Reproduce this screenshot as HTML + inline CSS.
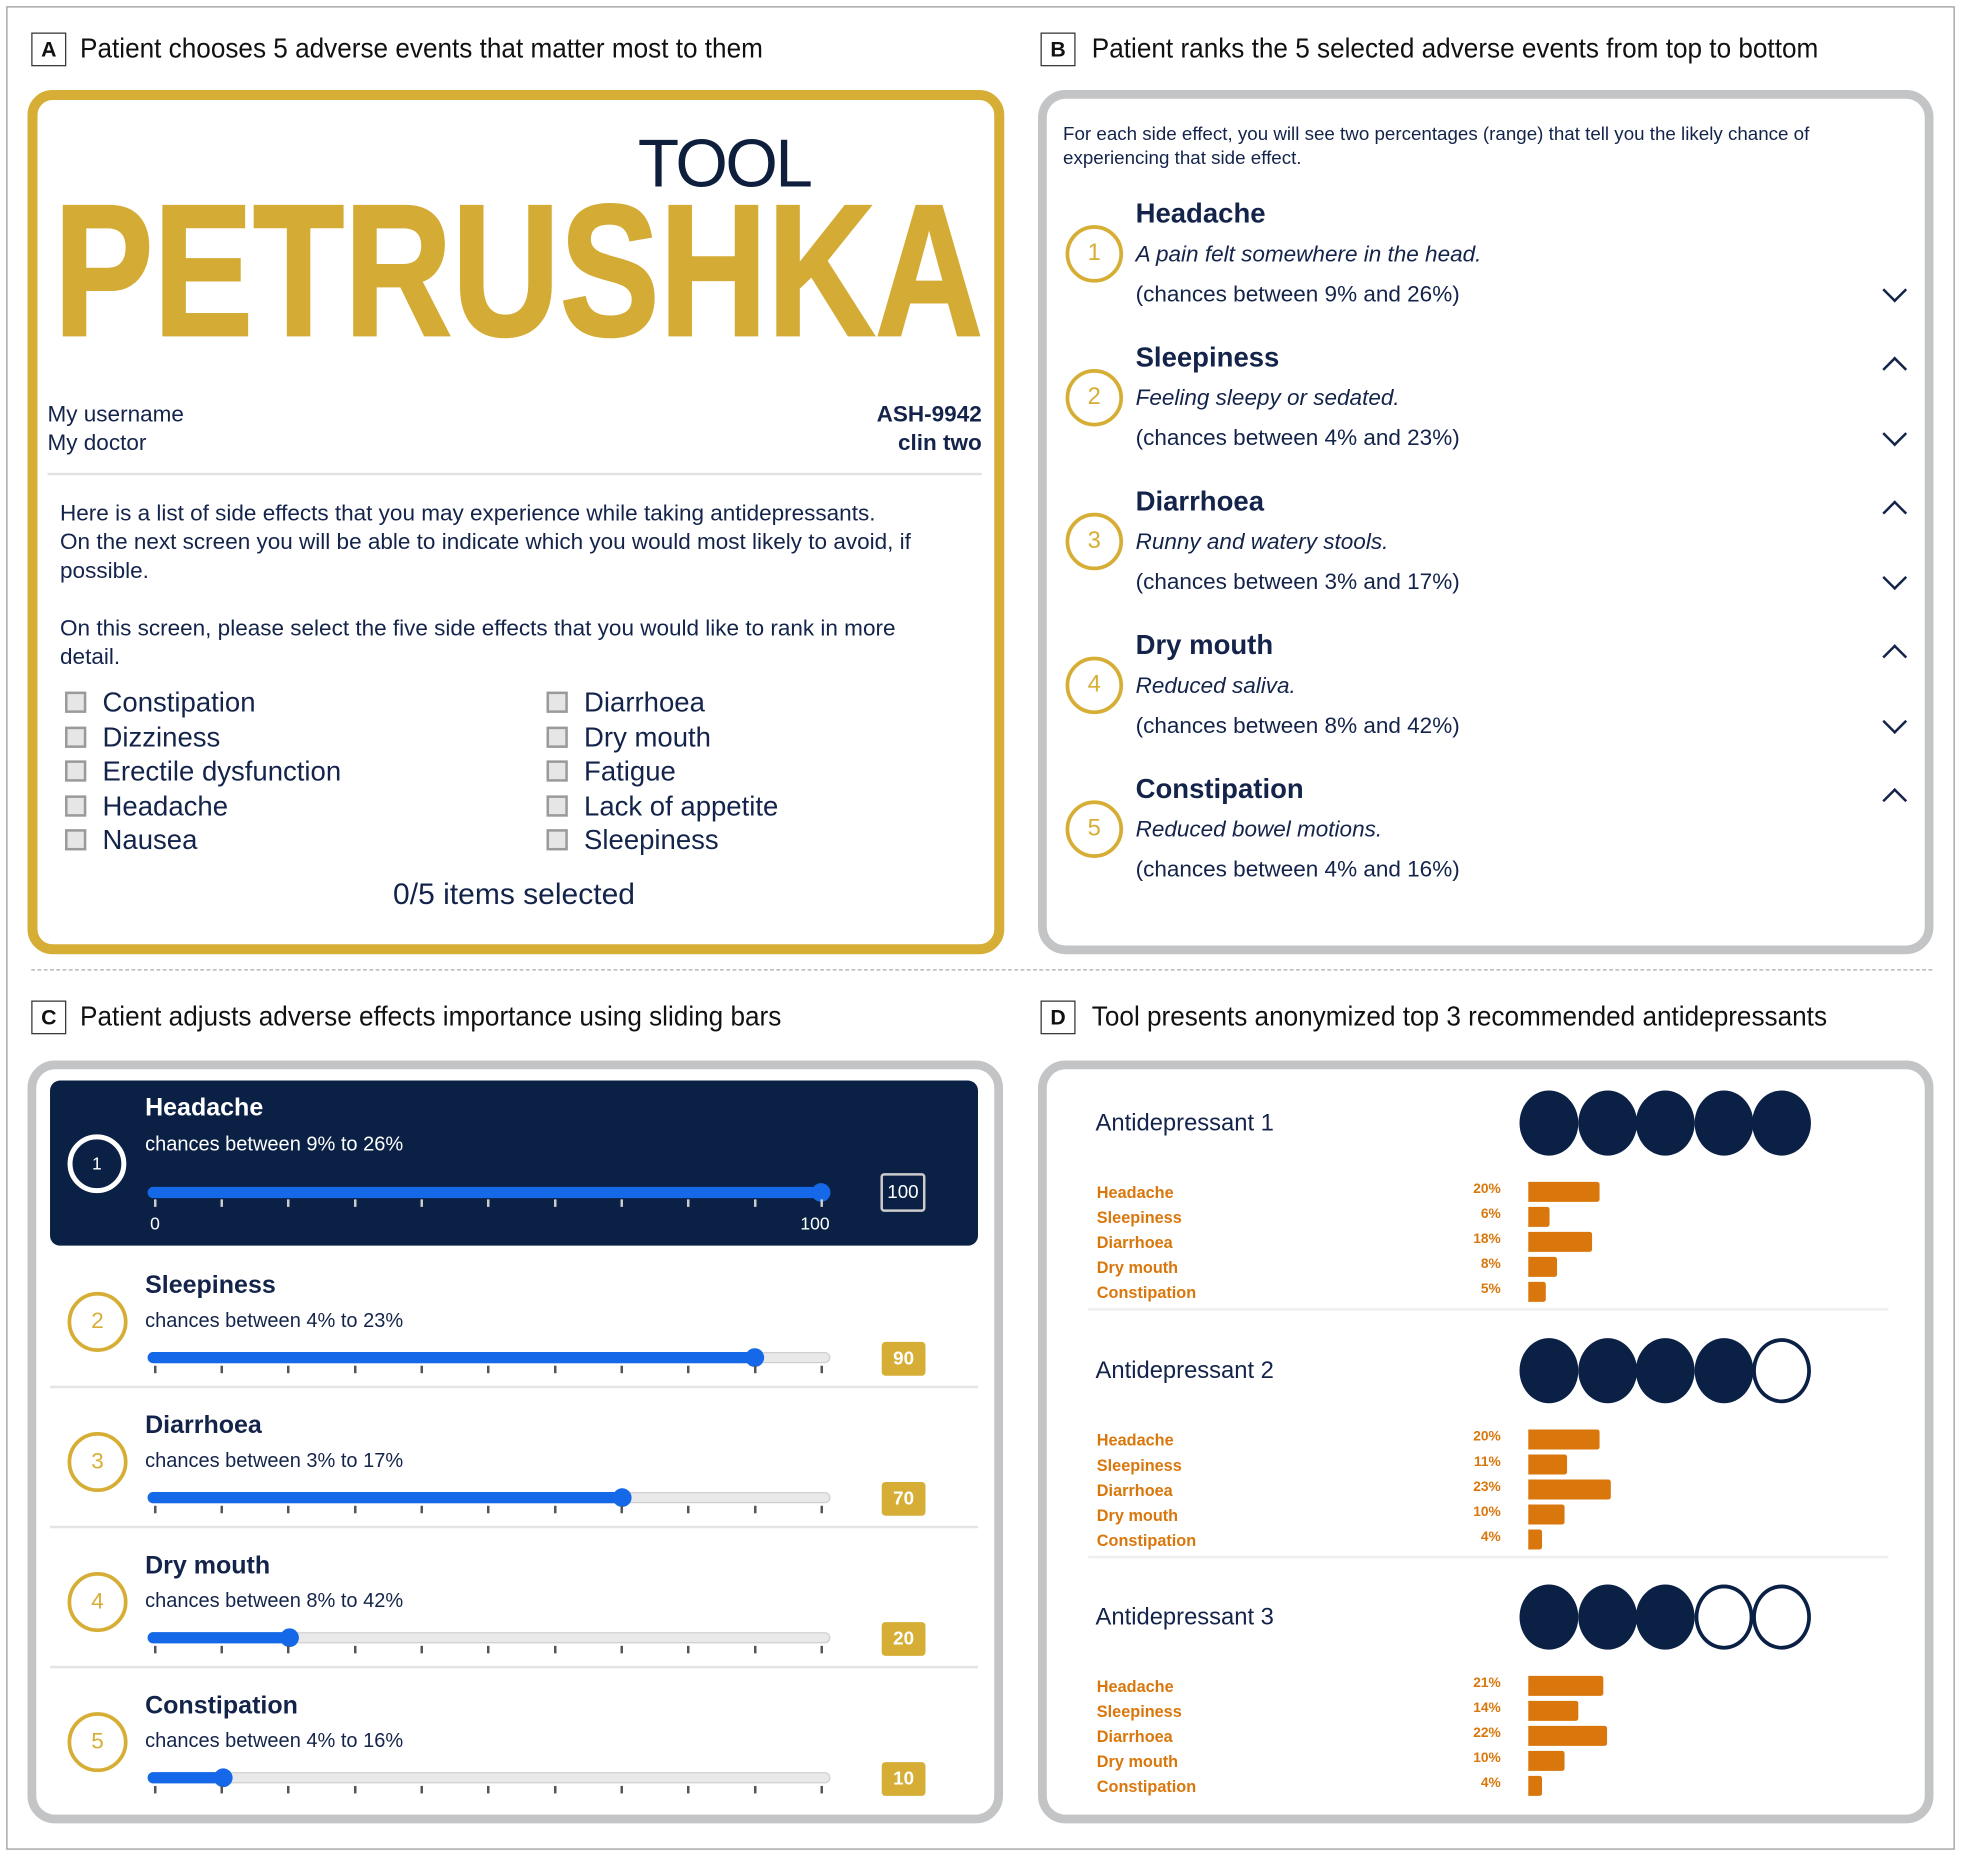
<!DOCTYPE html>
<html><head><meta charset="utf-8"><style>
*{margin:0;padding:0;box-sizing:border-box}
html,body{width:1961px;height:1856px;overflow:hidden;background:#fff}
#w{position:absolute;left:0;top:0;width:1568px;height:1484px;transform:scale(1.25064);transform-origin:0 0;font-family:"Liberation Sans",sans-serif;color:#13234a}
.a{position:absolute;white-space:nowrap}
.lab{position:absolute;width:28px;height:27px;border:1.5px solid #333;font:bold 17px "Liberation Sans Narrow","Liberation Sans",sans-serif;color:#111;text-align:center;line-height:25px}
.cap{position:absolute;font:22px "Liberation Sans Narrow","Liberation Sans",sans-serif;color:#111;white-space:nowrap;transform:scaleX(0.95);transform-origin:0 0}
.panel{position:absolute;border:7px solid #c3c4c6;border-radius:22px}
.cb{position:absolute;width:17px;height:17px;border:2px solid #9a9a9a;background:#e6e6e6}
.ct{position:absolute;font-size:22px;color:#13234a;white-space:nowrap}
.gc{position:absolute;border:3.5px solid #d6ae36;border-radius:50%;color:#d6ae36;text-align:center;font-size:19px}
.chev{position:absolute;width:14px;height:14px;border-right:2.5px solid #13234a;border-bottom:2.5px solid #13234a}
.trk{position:absolute;height:9px;border-radius:5px;background:#e9e9ea;border:1px solid #d0d0d0}
.fill{position:absolute;height:9px;border-radius:5px;background:#1569e8}
.th{position:absolute;width:15px;height:15px;border-radius:50%;background:#1569e8}
.tk{position:absolute;height:6px;background:repeating-linear-gradient(to right,#555 0 2px,transparent 2px 53.3px)}
.val{position:absolute;width:35px;height:27px;background:#d6ae36;color:#fff;font-weight:bold;font-size:15px;text-align:center;line-height:27px;border-radius:3px}
.ol{position:absolute;font-size:13px;font-weight:bold;color:#d9770c}
.op{position:absolute;font-size:11px;font-weight:bold;color:#d9770c;text-align:right;width:40px}
.bar{position:absolute;height:16px;background:#d9770c;border-radius:0 2px 2px 0}
.dot{position:absolute;width:47px;height:52px;border-radius:50%;background:#0b2045}
.dot.e{background:#fff;border:3px solid #0b2045}
</style></head><body><div id="w">
<div class="a" style="left:5px;top:5px;width:1558px;height:1474px;border:1.5px solid #999"></div>
<!-- A -->
<div class="lab" style="left:25px;top:26px">A</div>
<div class="cap" style="left:64px;top:26px">Patient chooses 5 adverse events that matter most to them</div>
<div class="a" style="left:22px;top:72px;width:781px;height:691px;border:8px solid #d6ae36;border-radius:20px"></div>
<div class="a" style="left:510px;top:100px;font-size:54px;color:#0e1f3d;letter-spacing:-2px">TOOL</div>
<svg class="a" style="left:40px;top:150px" width="750" height="125"><text x="3" y="118" textLength="743" lengthAdjust="spacingAndGlyphs" font-family="Liberation Sans" font-weight="bold" font-size="150" fill="#d4ab35" stroke="#d4ab35" stroke-width="2">PETRUSHKA</text></svg>
<div class="a" style="left:38px;top:320px;font-size:18px;line-height:23px">My username<br>My doctor</div>
<div class="a" style="right:783px;top:320px;font-size:18px;line-height:23px;font-weight:bold;text-align:right">ASH-9942<br>clin two</div>
<div class="a" style="left:38px;top:378px;width:747px;height:2px;background:#e2e2e2"></div>
<div class="a" style="left:48px;top:399px;font-size:18px;line-height:23px">Here is a list of side effects that you may experience while taking antidepressants.<br>On the next screen you will be able to indicate which you would most likely to avoid, if<br>possible.<br><br>On this screen, please select the five side effects that you would like to rank in more<br>detail.</div>
<div class="cb" style="left:52px;top:553px"></div><div class="ct" style="left:82px;top:549px">Constipation</div>
<div class="cb" style="left:52px;top:581px"></div><div class="ct" style="left:82px;top:577px">Dizziness</div>
<div class="cb" style="left:52px;top:608px"></div><div class="ct" style="left:82px;top:604px">Erectile dysfunction</div>
<div class="cb" style="left:52px;top:636px"></div><div class="ct" style="left:82px;top:632px">Headache</div>
<div class="cb" style="left:52px;top:663px"></div><div class="ct" style="left:82px;top:659px">Nausea</div>
<div class="cb" style="left:437px;top:553px"></div><div class="ct" style="left:467px;top:549px">Diarrhoea</div>
<div class="cb" style="left:437px;top:581px"></div><div class="ct" style="left:467px;top:577px">Dry mouth</div>
<div class="cb" style="left:437px;top:608px"></div><div class="ct" style="left:467px;top:604px">Fatigue</div>
<div class="cb" style="left:437px;top:636px"></div><div class="ct" style="left:467px;top:632px">Lack of appetite</div>
<div class="cb" style="left:437px;top:663px"></div><div class="ct" style="left:467px;top:659px">Sleepiness</div>
<div class="a" style="left:211px;width:400px;text-align:center;top:702px;font-size:24px">0/5 items selected</div>
<!-- B -->
<div class="lab" style="left:832px;top:26px">B</div>
<div class="cap" style="left:873px;top:26px">Patient ranks the 5 selected adverse events from top to bottom</div>
<div class="panel" style="left:830px;top:72px;width:716px;height:691px"></div>
<div class="a" style="left:850px;top:98px;font-size:15px;line-height:19px">For each side effect, you will see two percentages (range) that tell you the likely chance of<br>experiencing that side effect.</div>
<div id="bitems"></div>
<!-- separator -->
<div class="a" style="left:25px;top:775px;width:1520px;border-top:1.5px dashed #aaa"></div>
<!-- C -->
<div class="lab" style="left:25px;top:800px">C</div>
<div class="cap" style="left:64px;top:800px">Patient adjusts adverse effects importance using sliding bars</div>
<div class="panel" style="left:22px;top:848px;width:780px;height:610px"></div>
<div class="a" style="left:40px;top:864px;width:742px;height:132px;background:#0b2045;border-radius:8px"></div>
<div class="a" style="left:54px;top:907px;width:47px;height:47px;border:4px solid #fff;border-radius:50%;color:#fff;font-size:14px;text-align:center;line-height:39px">1</div>
<div class="a" style="left:116px;top:875px;font-size:20px;font-weight:bold;color:#fff">Headache</div>
<div class="a" style="left:116px;top:907px;font-size:16px;color:#fff">chances between 9% to 26%</div>
<div class="fill" style="left:118px;top:949px;width:540px"></div>
<div class="th" style="left:649px;top:946px"></div>
<div class="tk" style="left:123px;top:959px;width:537px;background:repeating-linear-gradient(to right,#ccc 0 2px,transparent 2px 53.3px)"></div>
<div class="a" style="left:120px;top:970px;font-size:14px;color:#fff">0</div>
<div class="a" style="left:640px;top:970px;font-size:14px;color:#fff">100</div>
<div class="a" style="left:704px;top:938px;width:36px;height:31px;border:2px solid #ccc;border-radius:3px;color:#fff;font-size:15px;text-align:center;line-height:27px">100</div>
<div id="crows"></div>
<!-- D -->
<div class="lab" style="left:832px;top:800px">D</div>
<div class="cap" style="left:873px;top:800px">Tool presents anonymized top 3 recommended antidepressants</div>
<div class="panel" style="left:830px;top:848px;width:716px;height:610px"></div>
<div id="drows"></div>
</div>
<script>
var h='';
var B=[["Headache","A pain felt somewhere in the head.","(chances between 9% and 26%)"],["Sleepiness","Feeling sleepy or sedated.","(chances between 4% and 23%)"],["Diarrhoea","Runny and watery stools.","(chances between 3% and 17%)"],["Dry mouth","Reduced saliva.","(chances between 8% and 42%)"],["Constipation","Reduced bowel motions.","(chances between 4% and 16%)"]];
B.forEach(function(b,i){var y=170+i*115;
h+='<div class="a" style="left:908px;top:'+(y-12)+'px;font-size:22px;font-weight:bold">'+b[0]+'</div>';
h+='<div class="a" style="left:908px;top:'+(y+23)+'px;font-size:18px;font-style:italic">'+b[1]+'</div>';
h+='<div class="a" style="left:908px;top:'+(y+55)+'px;font-size:18px">'+b[2]+'</div>';
h+='<div class="gc" style="left:852px;top:'+(y+10)+'px;width:46px;height:46px;line-height:39px">'+(i+1)+'</div>';
if(i<4)h+='<div class="chev" style="left:1508px;top:'+(y+55)+'px;transform:rotate(45deg)"></div>';
if(i>0)h+='<div class="chev" style="left:1508px;top:'+(y+3)+'px;transform:rotate(-135deg)"></div>';
});
document.getElementById('bitems').outerHTML=h;
h='';
var C=[["Sleepiness","4% to 23%",603,"90"],["Diarrhoea","3% to 17%",497,"70"],["Dry mouth","8% to 42%",231,"20"],["Constipation","4% to 16%",178,"10"]];
C.forEach(function(c,i){var y=1028+i*112;
h+='<div class="a" style="left:116px;top:'+(y-11)+'px;font-size:20px;font-weight:bold">'+c[0]+'</div>';
h+='<div class="a" style="left:116px;top:'+(y+20)+'px;font-size:16px">chances between '+c[1]+'</div>';
h+='<div class="gc" style="left:54px;top:'+(y+5)+'px;width:48px;height:48px;line-height:41px;font-size:18px">'+(i+2)+'</div>';
h+='<div class="trk" style="left:118px;top:'+(y+53)+'px;width:546px"></div>';
h+='<div class="fill" style="left:118px;top:'+(y+53)+'px;width:'+(c[2]-118)+'px"></div>';
h+='<div class="th" style="left:'+(c[2]-7)+'px;top:'+(y+50)+'px"></div>';
h+='<div class="tk" style="left:123px;top:'+(y+64)+'px;width:537px"></div>';
h+='<div class="val" style="left:705px;top:'+(y+45)+'px">'+c[3]+'</div>';
if(i<3)h+='<div class="a" style="left:40px;top:'+(y+80)+'px;width:742px;height:2px;background:#e4e4e4"></div>';
});
document.getElementById('crows').outerHTML=h;
h='';
var D=[[5,[20,6,18,8,5]],[4,[20,11,23,10,4]],[3,[21,14,22,10,4]]];
var N=["Headache","Sleepiness","Diarrhoea","Dry mouth","Constipation"];
D.forEach(function(d,k){var y=898+k*197.5;
h+='<div class="a" style="left:876px;top:'+(y-10)+'px;font-size:19px">Antidepressant '+(k+1)+'</div>';
for(var j=0;j<5;j++)h+='<div class="dot'+(j<d[0]?'':' e')+'" style="left:'+(1215+j*46.5)+'px;top:'+(y-26)+'px"></div>';
for(var j=0;j<5;j++){var yy=y+55+j*20;
h+='<div class="ol" style="left:877px;top:'+(yy-7)+'px">'+N[j]+'</div>';
h+='<div class="op" style="left:1160px;top:'+(yy-8)+'px">'+d[1][j]+'%</div>';
h+='<div class="bar" style="left:1222px;top:'+(yy-8)+'px;width:'+(d[1][j]*2.85)+'px"></div>';}
if(k<2)h+='<div class="a" style="left:870px;top:'+(y+148)+'px;width:640px;height:2px;background:#f0f0f0"></div>';
});
document.getElementById('drows').outerHTML=h;
</script>
</body></html>
